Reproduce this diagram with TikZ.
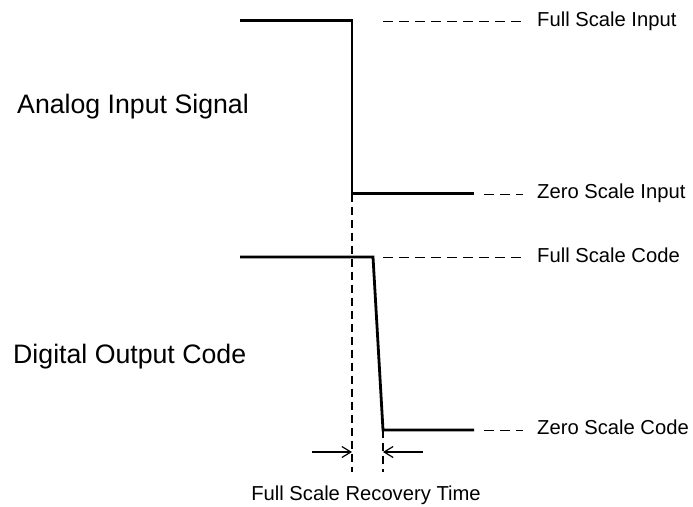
\documentclass[tikz,border=0pt]{standalone}
\usepackage{fontspec}
\setmainfont{Liberation Sans}
\usetikzlibrary{arrows.meta}

\tikzset{
  signal/.style={line width=2.8pt},
  guide/.style={line width=0.9pt, dash pattern=on 10pt off 6pt},
  marker/.style={line width=1.1pt, dash pattern=on 8pt off 5pt},
  timearrow/.style={line width=1.2pt, -{Straight Barb[length=9pt,width=11pt]}},
  bigtext/.style={anchor=base west, inner sep=0pt, font=\fontsize{26.7}{30}\selectfont},
  smalltext/.style={anchor=base west, inner sep=0pt, font=\fontsize{20.2}{22}\selectfont}
}

\begin{document}
\begin{tikzpicture}[x=1pt,y=-1pt]
\useasboundingbox (0,0) rectangle (693,506);

%digital output: lags and slews down
\coordinate (dout0) at (240,257);
\coordinate (dout1) at (373,257);
\coordinate (dout2) at (383,430);
\coordinate (dout3) at (474,430);
\draw[signal] (dout0) -- (dout1) -- (dout2) -- (dout3);

%analog input: a clean step
\coordinate (ain0) at (240,20.5);
\coordinate (ain1) at (352,20.5);
\coordinate (ain2) at (352,193.5);
\coordinate (ain3) at (474,193.5);
\draw[signal] (ain0) -- (ain1) -- (ain2) -- (ain3);

%level labels
\node[smalltext] (fsi) at (537,26) {Full Scale Input};
\node[smalltext] (zsi) at (537,198) {Zero Scale Input};
\node[smalltext] (fsc) at (537,262) {Full Scale Code};
\node[smalltext] (zsc) at (537,434) {Zero Scale Code};
\draw[guide] (383,21) -- (523,21);
\draw[guide] (484,194) -- (523,194);
\draw[guide] (383,257) -- (523,257);
\draw[guide] (484,430) -- (523,430);

%time markers
\coordinate (tstep) at (352,472);
\coordinate (tdone) at (383,472);
\draw[marker] (ain2) -- (tstep);
\draw[marker] (dout2) -- (tdone);
\coordinate (al) at (312,452);
\coordinate (ar) at (423,452);
\draw[timearrow] (al) -- (352,452);
\draw[timearrow] (ar) -- (383,452);
\node[anchor=base, inner sep=0pt, font=\fontsize{20.2}{22}\selectfont] (rec) at (366,500) {Full Scale Recovery Time};

%signal names
\node[bigtext] (ain) at (17,113) {Analog Input Signal};
\node[bigtext] (dout) at (13,363) {Digital Output Code};

\end{tikzpicture}
\end{document}
